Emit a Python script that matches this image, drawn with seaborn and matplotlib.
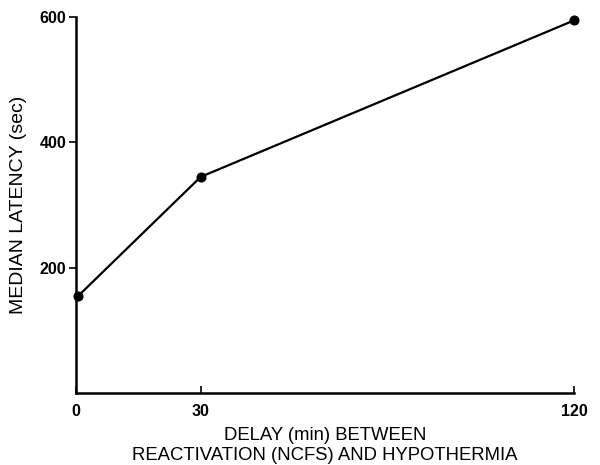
import matplotlib
matplotlib.use("Agg")
import matplotlib.pyplot as plt
import seaborn as sns
import pandas as pd

delay_min = [0.5, 30, 120]
median_latency = [155, 345, 595]
x_ticks = [0, 30, 120]
y_ticks = [200, 400, 600]

sns.set_theme(style="ticks")
plt.rcParams['font.family'] = ['Liberation Sans', 'DejaVu Sans']

df = pd.DataFrame({"delay": delay_min, "latency": median_latency})

fig = plt.figure(figsize=(6, 4.65), dpi=100)
ax = fig.add_axes([0.127, 0.155, 0.83, 0.808])
sns.lineplot(data=df, x="delay", y="latency", ax=ax, color="black",
             linewidth=1.6, marker="o", markersize=6.5, markeredgecolor="black",
             clip_on=False)

ax.set_xlim(0, 120)
ax.set_ylim(0, 600)
ax.set_xticks(x_ticks)
ax.set_yticks(y_ticks)
ax.set_xticklabels([str(t) for t in x_ticks], fontsize=11.5, fontweight="bold")
ax.set_yticklabels([str(t) for t in y_ticks], fontsize=11.5, fontweight="bold")
ax.tick_params(axis="x", direction="in", length=5, width=1.2, pad=8, colors="black")
ax.tick_params(axis="y", direction="out", length=5, width=1.2, pad=2, colors="black")
for s in ["top", "right"]:
    ax.spines[s].set_visible(False)
for s in ["left", "bottom"]:
    ax.spines[s].set_linewidth(1.8)
    ax.spines[s].set_color("black")

ax.set_xlabel("DELAY (min) BETWEEN\nREACTIVATION (NCFS) AND HYPOTHERMIA",
              fontsize=13.3, linespacing=1.2, labelpad=6, color="black")
ax.set_ylabel("MEDIAN LATENCY (sec)", fontsize=14, labelpad=9, color="black")

fig.savefig("out.png", dpi=100)
